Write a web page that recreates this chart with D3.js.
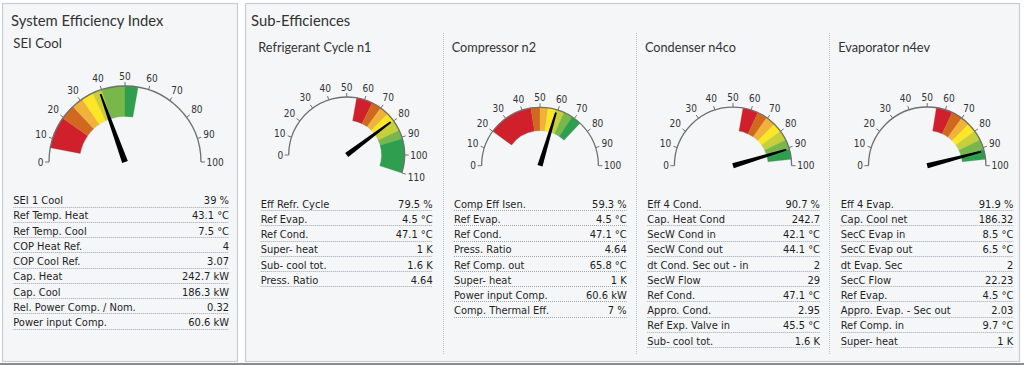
<!DOCTYPE html>
<html><head><meta charset="utf-8">
<script src="https://cdn.jsdelivr.net/npm/d3@7"></script>
<style>
html,body{margin:0;padding:0;background:#fff;}
svg{display:block;}
</style></head><body>
<svg id="chart" width="1024" height="365"></svg>
<script>
// ---------- DATA ----------
const gaugeNames = ["SEI Cool", "Refrigerant Cycle n1", "Compressor n2", "Condenser n4co", "Evaporator n4ev"];
const gaugeMax = [100, 110, 100, 100, 100];
const gaugeValues = [39, 79.5, 59.3, 90.7, 91.9];
const ticks100 = [0, 10, 20, 30, 40, 50, 60, 70, 80, 90, 100];
const ticks110 = [0, 10, 20, 30, 40, 50, 60, 70, 80, 90, 100, 110];
const bandColors = ["#d0202c", "#d0691f", "#f0b23a", "#fde725", "#c8cf3c", "#78b74a", "#2f9e4f"];
const bandsSEI = [6, 19.5, 26, 31, 36, 40, 50, 55.5];
const bandsN1 = [55.5, 64.5, 70, 75, 80, 86, 91, 110];
const bandsN2 = [20, 45, 50, 54.5, 58.5, 63.5, 68.5, 74];
const bandsN4co = [55.5, 64, 69.5, 75, 80, 85.5, 91, 96.5];
const bandsN4ev = [55, 64, 70, 75, 80, 85.5, 91, 96.5];

const seiLabels = ["SEI 1 Cool", "Ref Temp. Heat", "Ref Temp. Cool", "COP Heat Ref.", "COP Cool Ref.", "Cap. Heat", "Cap. Cool", "Rel. Power Comp. / Nom.", "Power input Comp."];
const seiValues = ["39 %", "43.1 °C", "7.5 °C", "4", "3.07", "242.7 kW", "186.3 kW", "0.32", "60.6 kW"];
const n1Labels = ["Eff Refr. Cycle", "Ref Evap.", "Ref Cond.", "Super- heat", "Sub- cool tot.", "Press. Ratio"];
const n1Values = ["79.5 %", "4.5 °C", "47.1 °C", "1 K", "1.6 K", "4.64"];
const n2Labels = ["Comp Eff Isen.", "Ref Evap.", "Ref Cond.", "Press. Ratio", "Ref Comp. out", "Super- heat", "Power input Comp.", "Comp. Thermal Eff."];
const n2Values = ["59.3 %", "4.5 °C", "47.1 °C", "4.64", "65.8 °C", "1 K", "60.6 kW", "7 %"];
const n4coLabels = ["Eff 4 Cond.", "Cap. Heat Cond", "SecW Cond in", "SecW Cond out", "dt Cond. Sec out - in", "SecW Flow", "Ref Cond.", "Appro. Cond.", "Ref Exp. Valve in", "Sub- cool tot."];
const n4coValues = ["90.7 %", "242.7", "42.1 °C", "44.1 °C", "2", "29", "47.1 °C", "2.95", "45.5 °C", "1.6 K"];
const n4evLabels = ["Eff 4 Evap.", "Cap. Cool net", "SecC Evap in", "SecC Evap out", "dt Evap. Sec", "SecC Flow", "Ref Evap.", "Appro. Evap. - Sec out", "Ref Comp. in", "Super- heat"];
const n4evValues = ["91.9 %", "186.32", "8.5 °C", "6.5 °C", "2", "22.23", "4.5 °C", "2.03", "9.7 °C", "1 K"];

// ---------- LAYOUT ----------
const svg = d3.select("#chart");
const FONT_T = "Lato, 'Open Sans', sans-serif";
const FONT_R = "'DejaVu Sans Condensed', 'DejaVu Sans', sans-serif";

svg.append("line").attr("x1", 0).attr("x2", 1024).attr("y1", 364).attr("y2", 364)
  .attr("stroke", "#8c8c8c").attr("stroke-width", 2);

const panels = [{x: 2.5, y: 3.5, w: 235, h: 358}, {x: 245.5, y: 3.5, w: 774, h: 358}];
svg.selectAll("rect.panel").data(panels).join("rect").attr("class", "panel")
  .attr("x", d => d.x).attr("y", d => d.y).attr("width", d => d.w).attr("height", d => d.h)
  .attr("fill", "#f4f6f8").attr("stroke", "#c6cdd4").attr("stroke-width", 1.2);

svg.append("text").attr("x", 11).attr("y", 26).text("System Efficiency Index")
  .attr("font-family", FONT_T).attr("font-size", 14.8).attr("fill", "#333");
svg.append("text").attr("x", 251).attr("y", 26).text("Sub-Efficiences")
  .attr("font-family", FONT_T).attr("font-size", 14.8).attr("fill", "#333");

// separators
[443, 636, 829].forEach(x => {
  svg.append("line").attr("x1", x + 0.5).attr("x2", x + 0.5).attr("y1", 33).attr("y2", 355)
    .attr("stroke", "#b9c2cb").attr("stroke-dasharray", "1,1");
});

const gaugeLayout = [
  {cx: 125, cy: 162, r: 76, tx: 13.3, ty: 47.7, ts: 13.2, bands: bandsSEI, ticks: ticks100},
  {cx: 346.7, cy: 155, r: 58, tx: 258.3, ty: 52, ts: 12.7, bands: bandsN1, ticks: ticks110},
  {cx: 540, cy: 165.7, r: 58.4, tx: 451.7, ty: 52, ts: 12.7, bands: bandsN2, ticks: ticks100},
  {cx: 733, cy: 165.7, r: 58.6, tx: 645, ty: 52, ts: 12.7, bands: bandsN4co, ticks: ticks100},
  {cx: 927.2, cy: 165.7, r: 58.7, tx: 838.3, ty: 52, ts: 12.7, bands: bandsN4ev, ticks: ticks100}
];

gaugeLayout.forEach((L, gi) => {
  const max = gaugeMax[gi];
  const ang = d3.scaleLinear().domain([0, max]).range([-Math.PI / 2, -Math.PI / 2 + max * 1.8 * Math.PI / 180]);
  svg.append("text").attr("x", L.tx).attr("y", L.ty).text(gaugeNames[gi])
    .attr("font-family", FONT_T).attr("font-size", L.ts).attr("fill", "#333");
  const g = svg.append("g").attr("transform", `translate(${L.cx},${L.cy})`);
  const bandData = d3.range(L.bands.length - 1).map(i => ({a: L.bands[i], b: L.bands[i + 1], c: bandColors[i]}));
  const arcB = d3.arc().innerRadius(L.r * 0.6).outerRadius(L.r);
  g.selectAll("path.band").data(bandData).join("path").attr("class", "band")
    .attr("d", d => arcB({startAngle: ang(d.a), endAngle: ang(d.b)}))
    .attr("fill", d => d.c).attr("stroke", d => d.c).attr("stroke-width", 0.3);
  const scaleArc = d3.arc().innerRadius(L.r).outerRadius(L.r);
  g.append("path").attr("d", scaleArc({startAngle: ang(0), endAngle: ang(max)}))
    .attr("fill", "none").attr("stroke", "#707070").attr("stroke-width", 1.3);
  // ticks
  L.ticks.forEach(t => {
    const a = ang(t), s = Math.sin(a), c = Math.cos(a);
    g.append("line").attr("x1", L.r * s).attr("y1", -L.r * c)
      .attr("x2", (L.r + 4) * s).attr("y2", -(L.r + 4) * c)
      .attr("stroke", "#707070").attr("stroke-width", 1);
    const lbl = String(t);
    const w = lbl.length * 5.8;
    const off = L.r + 5.5 + Math.abs(s) * w / 2 + Math.abs(c) * 4.5;
    g.append("text").attr("x", off * s).attr("y", -off * c).text(lbl)
      .attr("text-anchor", "middle").attr("dominant-baseline", "central")
      .attr("font-family", FONT_R).attr("font-size", 10).attr("fill", "#333");
  });
  // needle
  const len = L.r * 0.95;
  const hw = gi === 0 ? 3 : 2.6;
  g.append("path")
    .attr("d", `M${-hw},0 L${-0.9},${-len} L0.9,${-len} L${hw},0 Z`)
    .attr("fill", "#000")
    .attr("transform", `rotate(${ang(gaugeValues[gi]) * 180 / Math.PI})`);
});

// ---------- TABLES ----------
const tables = [
  {labels: seiLabels, values: seiValues, x0: 13.3, x1: 229, y0: 204, dy: 15.25},
  {labels: n1Labels, values: n1Values, x0: 260.7, x1: 432.7, y0: 207.7, dy: 15.2},
  {labels: n2Labels, values: n2Values, x0: 454, x1: 626.7, y0: 207.7, dy: 15.2},
  {labels: n4coLabels, values: n4coValues, x0: 647.3, x1: 820, y0: 207.7, dy: 15.2},
  {labels: n4evLabels, values: n4evValues, x0: 840.7, x1: 1013.3, y0: 207.7, dy: 15.2}
];
tables.forEach(T => {
  const y = d3.scaleLinear().domain([0, 1]).range([T.y0, T.y0 + T.dy]);
  const g = svg.append("g");
  T.labels.forEach((lab, i) => {
    g.append("text").attr("x", T.x0).attr("y", y(i)).text(lab)
      .attr("font-family", FONT_R).attr("font-size", 11).attr("fill", "#1e1e1e");
    g.append("text").attr("x", T.x1).attr("y", y(i)).text(T.values[i]).attr("text-anchor", "end")
      .attr("font-family", FONT_R).attr("font-size", 11).attr("fill", "#1e1e1e");
    g.append("line").attr("x1", T.x0).attr("x2", T.x1)
      .attr("y1", Math.round(y(i) + 2.5) + 0.5).attr("y2", Math.round(y(i) + 2.5) + 0.5)
      .attr("stroke", "#9ea6ae").attr("stroke-dasharray", "1,1").attr("stroke-width", 1);
  });
});
</script>
</body></html>
